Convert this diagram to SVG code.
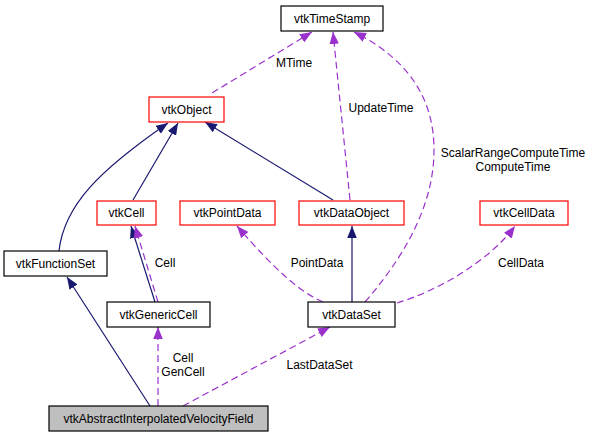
<svg xmlns="http://www.w3.org/2000/svg" width="596" height="437" viewBox="0 0 596 437">
<style>
text{font-family:"Liberation Sans",Arial,sans-serif;font-size:12px;fill:#000;text-anchor:middle}
.box{fill:#fff;stroke:#000;stroke-width:1.2}
.red{fill:#fff;stroke:#ff0000;stroke-width:1.2}
.cur{fill:#bfbfbf;stroke:#000;stroke-width:1.2}
.inh{fill:none;stroke:#191970;stroke-width:1.2;marker-end:url(#ah)}
.use{fill:none;stroke:#9a32cd;stroke-width:1.2;stroke-dasharray:7,4;marker-end:url(#au)}
</style>
<defs>
<marker id="ah" viewBox="0 0 10 8" refX="10" refY="4" markerWidth="12" markerHeight="10" markerUnits="userSpaceOnUse" orient="auto"><path d="M0,0L10,4L0,8z" fill="#191970"/></marker>
<marker id="au" viewBox="0 0 10 8" refX="10" refY="4" markerWidth="12" markerHeight="10" markerUnits="userSpaceOnUse" orient="auto"><path d="M0,0L10,4L0,8z" fill="#9a32cd"/></marker>
</defs>
<rect width="596" height="437" fill="#fff"/>
<g id="connectors">
<path class="use" d="M212,93L312,32"/>
<path class="use" d="M350,200L333,32"/>
<path class="use" d="M365,302C410,250 434,200 434,150C434,100 410,60 354,32"/>
<path class="inh" d="M59,251C64,205 100,170 168,123"/>
<path class="inh" d="M133,200L178,123"/>
<path class="inh" d="M333,200L205,122"/>
<path class="inh" d="M155,302L131,226"/>
<path class="use" d="M158,302L135,226"/>
<path class="inh" d="M352,302L352,226"/>
<path class="use" d="M323,302C300,292 275,270 237,226"/>
<path class="use" d="M397,303C440,290 490,260 515,226"/>
<path class="inh" d="M150,406L67,277"/>
<path class="use" d="M158,406L158,327"/>
<path class="use" d="M183,406L330,327"/>
<text x="294" y="67">MTime</text>
<text x="381" y="112">UpdateTime</text>
<text x="513" y="157">ScalarRangeComputeTime</text>
<text x="513" y="171">ComputeTime</text>
<text x="165" y="267">Cell</text>
<text x="317" y="267">PointData</text>
<text x="521" y="267">CellData</text>
<text x="183" y="362">Cell</text>
<text x="183" y="376">GenCell</text>
<text x="319.5" y="369">LastDataSet</text>
</g>
<g id="vtkTimeStamp"><rect class="box" x="281" y="6" width="102" height="25"/><text x="332" y="23">vtkTimeStamp</text></g>
<g id="vtkObject"><rect class="red" x="149" y="97" width="75" height="25"/><text x="186.5" y="114">vtkObject</text></g>
<g id="vtkCell"><rect class="red" x="97" y="201" width="59" height="24"/><text x="126.5" y="217">vtkCell</text></g>
<g id="vtkPointData"><rect class="red" x="180" y="201" width="95" height="24"/><text x="227.5" y="217">vtkPointData</text></g>
<g id="vtkDataObject"><rect class="red" x="299" y="201" width="105" height="24"/><text x="351.5" y="217">vtkDataObject</text></g>
<g id="vtkCellData"><rect class="red" x="480" y="201" width="88" height="24"/><text x="524" y="217">vtkCellData</text></g>
<g id="vtkFunctionSet"><rect class="box" x="4" y="251" width="103" height="25"/><text x="55.5" y="268">vtkFunctionSet</text></g>
<g id="vtkGenericCell"><rect class="box" x="107" y="302" width="103" height="25"/><text x="158.5" y="319">vtkGenericCell</text></g>
<g id="vtkDataSet"><rect class="box" x="308" y="302" width="87" height="25"/><text x="351.5" y="319">vtkDataSet</text></g>
<g id="vtkAbstractInterpolatedVelocityField"><rect class="cur" x="49" y="406" width="219" height="25"/><text x="158.5" y="423">vtkAbstractInterpolatedVelocityField</text></g>
</svg>
